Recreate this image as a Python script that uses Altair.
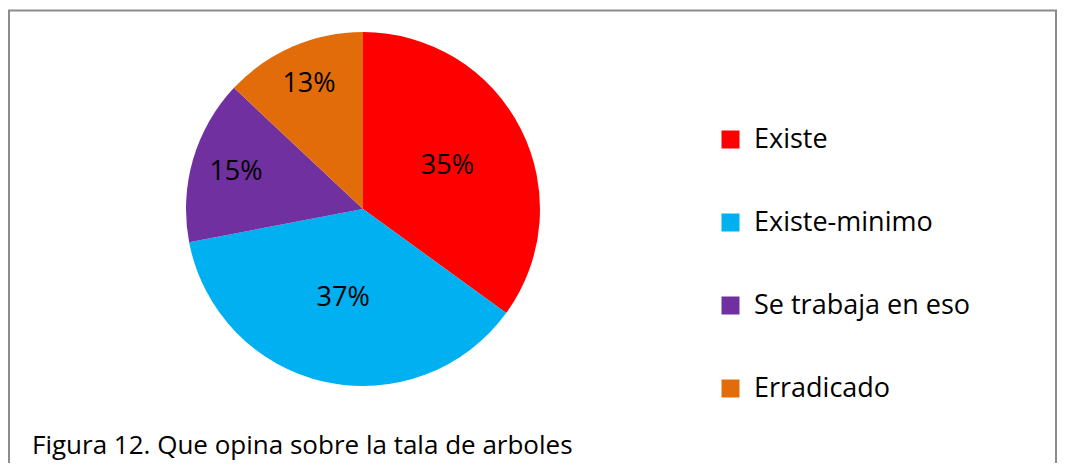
import altair as alt
import pandas as pd

categorias = ["Existe", "Existe-minimo", "Se trabaja en eso", "Erradicado"]
valores = [35, 37, 15, 13]
colores = ["#FF0000", "#00B0F0", "#7030A0", "#E36C0A"]
titulo = "Figura 12. Que opina sobre la tala de arboles"

df = pd.DataFrame({
    "categoria": categorias,
    "valor": valores,
    "orden": list(range(len(categorias))),
})
df["etiqueta"] = df["valor"].astype(str) + "%"

W, H = 1049, 455
CX, CY = 355, 201
FONT = "Open Sans"

base = alt.Chart(df)

color = alt.Color(
    "categoria:N",
    scale=alt.Scale(domain=categorias, range=colores),
    legend=alt.Legend(
        title=None,
        orient="none",
        legendX=709,
        legendY=118,
        symbolType="square",
        symbolSize=324,
        symbolStrokeWidth=0,
        labelFont=FONT,
        labelFontSize=27,
        labelColor="#000000",
        labelOffset=10,
        rowPadding=55,
        padding=0,
        labelLimit=400,
    ),
)

pie = base.mark_arc(radius=177).encode(
    theta=alt.Theta("valor:Q", stack=True),
    color=color,
    order=alt.Order("orden:O"),
    x=alt.value(CX),
    y=alt.value(CY),
)

labels = base.mark_text(font=FONT, fontSize=27, color="#000000").encode(
    theta=alt.Theta("valor:Q", stack=True),
    radius=alt.Radius("valor:Q", scale=alt.Scale(type="linear", zero=False, range=[136, 91])),
    text="etiqueta:N",
    order=alt.Order("orden:O"),
    x=alt.value(CX),
    y=alt.value(CY),
)

one = alt.Data(values=[{}])
border_style = dict(color="#8c8c8c", strokeWidth=2)
left = alt.Chart(one).mark_rule(**border_style).encode(
    x=alt.value(1), y=alt.value(2), y2=alt.value(H))
top = alt.Chart(one).mark_rule(**border_style).encode(
    x=alt.value(0), x2=alt.value(W), y=alt.value(2.5))
right = alt.Chart(one).mark_rule(**border_style).encode(
    x=alt.value(W - 1), y=alt.value(2), y2=alt.value(H))

chart = alt.layer(pie, labels, left, top, right).properties(
    width=W,
    height=H,
    padding=0,
    autosize=alt.AutoSizeParams(type="none"),
    title=alt.TitleParams(
        titulo,
        orient="bottom",
        anchor="start",
        frame="group",
        baseline="middle",
        offset=-18,
        dx=24,
        font=FONT,
        fontSize=26,
        fontWeight="normal",
        color="#000000",
    ),
).configure_view(stroke=None)

chart.save("out.html", embed_options={"renderer": "svg", "actions": False})
